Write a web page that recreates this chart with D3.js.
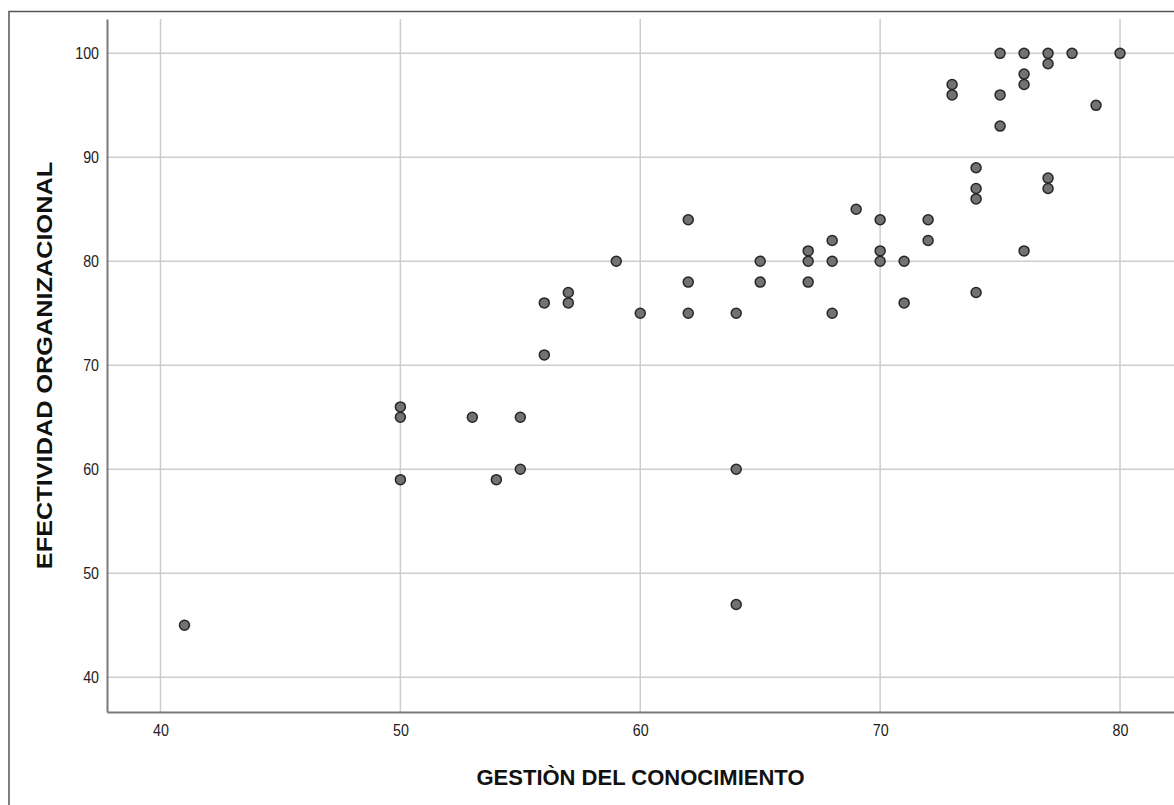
<!DOCTYPE html>
<html>

<head>
    <script type="text/javascript" src="https://d3js.org/d3.v7.min.js"></script>
    <style>
        body { margin: 0; background: #fff; }
    </style>
</head>

<body>
    <script>
        // data: x = gestion del conocimiento, y = efectividad organizacional
        var gestion = [41, 50, 50, 50, 53, 54, 55, 55, 56, 56, 57, 57, 59, 60, 62, 62, 62,
            64, 64, 64, 65, 65, 67, 67, 67, 68, 68, 68, 69, 70, 70, 70, 71, 71, 72, 72,
            73, 73, 74, 74, 74, 74, 75, 75, 75, 76, 76, 76, 76, 77, 77, 77, 77, 78, 79, 80];
        var efectividad = [45, 66, 65, 59, 65, 59, 65, 60, 76, 71, 77, 76, 80, 75, 84, 78, 75,
            75, 60, 47, 80, 78, 81, 80, 78, 82, 80, 75, 85, 84, 81, 80, 80, 76, 84, 82,
            97, 96, 89, 87, 86, 77, 100, 96, 93, 100, 98, 97, 81, 100, 99, 88, 87, 100, 95, 100];
        var xTicks = [40, 50, 60, 70, 80];
        var yTicks = [40, 50, 60, 70, 80, 90, 100];
        var xTitle = 'GESTIÒN DEL CONOCIMIENTO';
        var yTitle = 'EFECTIVIDAD ORGANIZACIONAL';

        var width = 1174;
        var height = 805;
        var plotLeft = 107, plotRight = 1174, plotTop = 19, plotBottom = 712;

        var svg = d3.select('body').append('svg').attr('width', width).attr('height', height);

        // outer frame (only top and left edges visible)
        svg.append('path')
            .attr('d', 'M9,' + height + 'V11.5H' + width)
            .attr('fill', 'none').attr('stroke', '#555').attr('stroke-width', 1.5);

        var x = d3.scaleLinear().domain([37.77, 82.25]).range([plotLeft, plotRight]);
        var y = d3.scaleLinear().domain([36.66, 103.3]).range([plotBottom, plotTop]);

        // grid lines
        svg.append('g').selectAll('line').data(yTicks).enter().append('line')
            .attr('x1', plotLeft).attr('x2', plotRight)
            .attr('y1', d => y(d)).attr('y2', d => y(d))
            .attr('stroke', '#cdcdcd').attr('stroke-width', 1.5);
        svg.append('g').selectAll('line').data(xTicks).enter().append('line')
            .attr('y1', plotTop).attr('y2', plotBottom)
            .attr('x1', d => x(d)).attr('x2', d => x(d))
            .attr('stroke', '#cdcdcd').attr('stroke-width', 1.5);

        // axes
        var xAxis = d3.axisBottom(x).tickValues(xTicks).tickSize(0).tickPadding(12);
        var yAxis = d3.axisLeft(y).tickValues(yTicks).tickSize(0).tickPadding(9.5);

        var gx = svg.append('g').attr('transform', 'translate(0,' + plotBottom + ')').call(xAxis);
        var gy = svg.append('g').attr('transform', 'translate(' + plotLeft + ',0)').call(yAxis);
        [gx, gy].forEach(function(g) {
            g.select('.domain').attr('stroke', '#7a7a7a').attr('stroke-width', 2);
            // the tick digits in the picture are tall and narrow
            g.selectAll('text').attr('font-family', 'Liberation Sans, Arial, sans-serif')
                .attr('font-size', 17).attr('fill', '#222')
                .attr('transform', 'scale(0.84,1)');
        });

        // points
        svg.append('g').selectAll('circle').data(gestion).enter().append('circle')
            .attr('cx', d => x(d))
            .attr('cy', (d, i) => y(efectividad[i]))
            .attr('r', 5)
            .attr('fill', '#727272')
            .attr('stroke', '#262626')
            .attr('stroke-width', 1.5);

        // axis titles
        svg.append('text')
            .attr('x', (plotLeft + plotRight) / 2).attr('y', 785)
            .attr('text-anchor', 'middle')
            .attr('font-family', 'Liberation Sans, Arial, sans-serif')
            .attr('font-size', 22).attr('font-weight', 'bold').attr('fill', '#111')
            .text(xTitle);
        svg.append('text')
            .attr('transform', 'translate(52,' + (plotTop + plotBottom) / 2 + ') rotate(-90) scale(1.15,1)')
            .attr('text-anchor', 'middle')
            .attr('font-family', 'Liberation Sans, Arial, sans-serif')
            .attr('font-size', 22).attr('font-weight', 'bold').attr('fill', '#111')
            .text(yTitle);
    </script>
</body>

</html>
